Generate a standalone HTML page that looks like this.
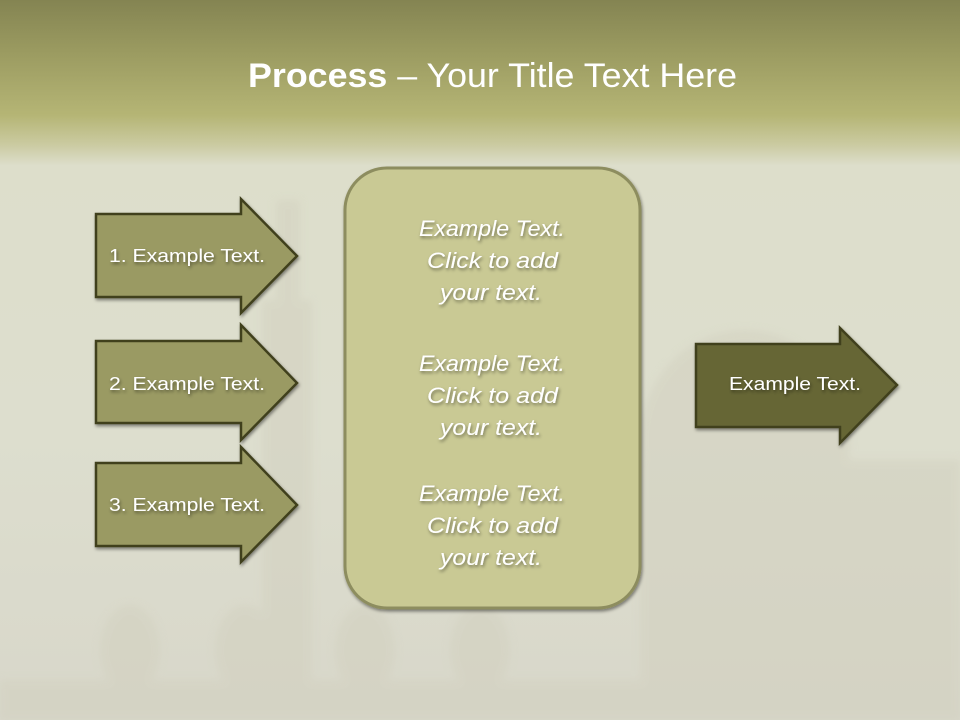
<!DOCTYPE html>
<html><head><meta charset="utf-8"><style>
html,body{margin:0;padding:0;width:960px;height:720px;overflow:hidden}
svg{display:block}
text{font-family:"Liberation Sans",sans-serif;fill:#fff}
</style></head><body>
<svg width="960" height="720" viewBox="0 0 960 720" xmlns="http://www.w3.org/2000/svg">
<defs>
<linearGradient id="bg" x1="0" y1="0" x2="0" y2="1">
<stop offset="0" stop-color="#848452"/>
<stop offset="0.07" stop-color="#9a9a60"/>
<stop offset="0.16" stop-color="#b5b575"/>
<stop offset="0.2" stop-color="#cacaa0"/>
<stop offset="0.23" stop-color="#dddecb"/>
<stop offset="0.6" stop-color="#dddece"/>
<stop offset="1" stop-color="#d8d7ca"/>
</linearGradient>
<filter id="sh" x="-10%" y="-10%" width="130%" height="140%"><feDropShadow dx="1" dy="2" stdDeviation="1.5" flood-color="#000" flood-opacity="0.45"/></filter>
<filter id="bl"><feGaussianBlur stdDeviation="4"/></filter>
</defs>
<rect width="960" height="720" fill="url(#bg)"/>
<g fill="#d2d0bf" opacity="0.5" filter="url(#bl)">
<rect x="262" y="300" width="50" height="420"/>
<rect x="276" y="200" width="24" height="110"/>
<ellipse cx="745" cy="440" rx="105" ry="110"/>
<rect x="640" y="460" width="320" height="260"/>
<ellipse cx="130" cy="650" rx="30" ry="45"/>
<ellipse cx="245" cy="650" rx="30" ry="45"/>
<ellipse cx="365" cy="650" rx="30" ry="45"/>
<ellipse cx="480" cy="650" rx="30" ry="45"/>
<ellipse cx="825" cy="570" rx="40" ry="50"/>
<ellipse cx="920" cy="570" rx="35" ry="45"/>
<rect x="0" y="680" width="960" height="40"/>
</g>
<text x="248" y="87" font-size="34" textLength="489" lengthAdjust="spacingAndGlyphs"><tspan font-weight="bold">Process</tspan> – Your Title Text Here</text>

<g filter="url(#sh)">
<rect x="345" y="168" width="295" height="440" rx="42" fill="#c9c994" stroke="#8d8d5e" stroke-width="3"/>
</g>

<g stroke="#40401f" stroke-width="2.5" fill="#9a9a64" filter="url(#sh)">
<polygon points="96,214 241,214 241,199 297,256 241,313 241,297 96,297"/>
<polygon points="96,341 241,341 241,325 297,383 241,440 241,423 96,423"/>
<polygon points="96,463 241,463 241,447 297,505 241,562 241,546 96,546"/>
<polygon points="696,344 840,344 840,328 897,385 840,443 840,427 696,427" fill="#666636"/>
</g>

<g font-size="18" filter="url(#sh)">
<text x="109" y="262" textLength="156" lengthAdjust="spacingAndGlyphs">1. Example Text.</text>
<text x="109" y="390" textLength="156" lengthAdjust="spacingAndGlyphs">2. Example Text.</text>
<text x="109" y="511" textLength="156" lengthAdjust="spacingAndGlyphs">3. Example Text.</text>
<text x="729" y="390" textLength="132" lengthAdjust="spacingAndGlyphs">Example Text.</text>
</g>

<g font-size="22" font-style="italic" filter="url(#sh)">
<text x="419" y="236" textLength="146" lengthAdjust="spacingAndGlyphs">Example Text.</text>
<text x="427" y="268" textLength="131" lengthAdjust="spacingAndGlyphs">Click  to add</text>
<text x="440" y="300" textLength="102" lengthAdjust="spacingAndGlyphs">your text.</text>
<text x="419" y="371" textLength="146" lengthAdjust="spacingAndGlyphs">Example Text.</text>
<text x="427" y="403" textLength="131" lengthAdjust="spacingAndGlyphs">Click  to add</text>
<text x="440" y="435" textLength="102" lengthAdjust="spacingAndGlyphs">your text.</text>
<text x="419" y="501" textLength="146" lengthAdjust="spacingAndGlyphs">Example Text.</text>
<text x="427" y="533" textLength="131" lengthAdjust="spacingAndGlyphs">Click  to add</text>
<text x="440" y="565" textLength="102" lengthAdjust="spacingAndGlyphs">your text.</text>
</g>
</svg>
</body></html>
